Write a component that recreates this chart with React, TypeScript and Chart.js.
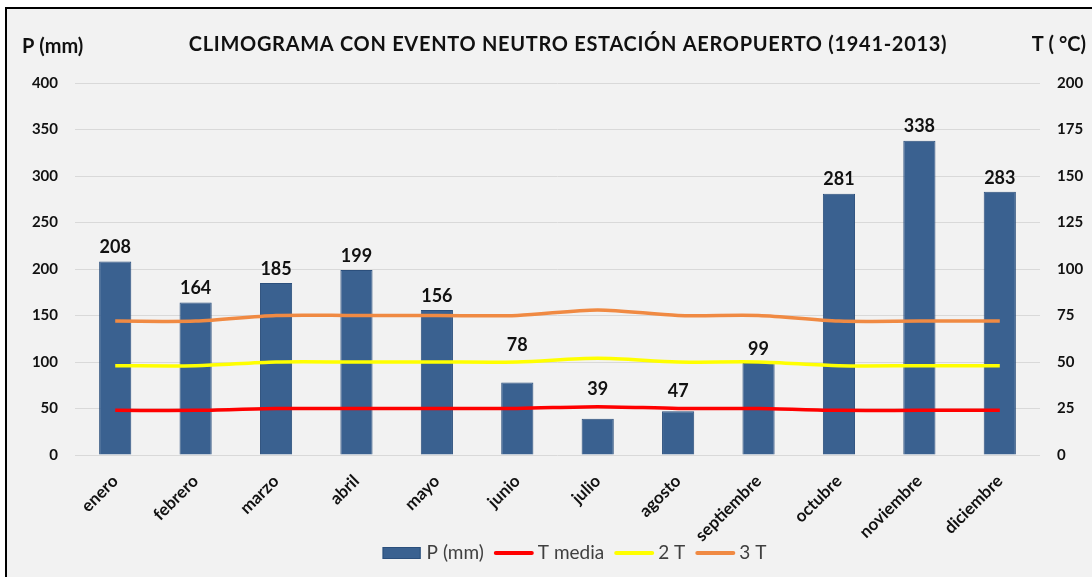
import React, { useEffect, useRef } from 'react';
import { Chart, registerables } from 'chart.js';
Chart.register(...registerables);

const months = ['enero', 'febrero', 'marzo', 'abril', 'mayo', 'junio', 'julio', 'agosto', 'septiembre', 'octubre', 'noviembre', 'diciembre'];
const precipitation = [208, 164, 185, 199, 156, 78, 39, 47, 99, 281, 338, 283];
const tMedia = [24, 24, 25, 25, 25, 25, 26, 25, 25, 24, 24, 24];
const t2 = [48, 48, 50, 50, 50, 50, 52, 50, 50, 48, 48, 48];
const t3 = [72, 72, 75, 75, 75, 75, 78, 75, 75, 72, 72, 72];

const titleText = 'CLIMOGRAMA CON EVENTO NEUTRO ESTACIÓN AEROPUERTO (1941-2013)';
const leftTitle = 'P (mm)';
const rightTitle = 'T ( °C)';

const BAR_COLOR = '#3A6190';
const BAR_BORDER = '#2B4F7C';
const RED = '#FF0000';
const YELLOW = '#FFFF00';
const ORANGE = '#F08A43';
const FONT = 'Lato';

export default function App() {
  const ref = useRef<HTMLCanvasElement>(null);
  useEffect(() => {
    const canvas = ref.current!;
    const overlay = {
      id: 'overlay',
      afterDraw(chart: any) {
        const ctx = chart.ctx;
        ctx.save();
        // title
        ctx.fillStyle = '#111';
        ctx.textBaseline = 'middle';
        ctx.textAlign = 'center';
        ctx.font = `bold 20px ${FONT}`;
        (ctx as any).letterSpacing = '0.7px';
        ctx.fillText(titleText, 568, 45);
        (ctx as any).letterSpacing = '0px';
        ctx.font = `bold 20px ${FONT}`;
        ctx.textAlign = 'left';
        ctx.fillText(leftTitle, 22, 47);
        ctx.textAlign = 'right';
        ctx.fillText(rightTitle, 1086, 45);
        // data labels: above bar, pushed above any temperature line they would hit
        const meta = chart.getDatasetMeta(0);
        const lineMetas = [1, 2, 3].map((i) => chart.getDatasetMeta(i));
        ctx.font = `bold 18px ${FONT}`;
        ctx.textAlign = 'center';
        ctx.textBaseline = 'bottom';
        ctx.fillStyle = '#111';
        const labelH = 17;
        meta.data.forEach((el: any, i: number) => {
          let bottom = el.y - 5;
          let moved = true;
          let guard = 0;
          while (moved && guard < 5) {
            moved = false;
            guard++;
            for (const lm of lineMetas) {
              const ly = lm.data[i].y;
              if (ly > bottom - labelH - 3 && ly < bottom + 3) {
                bottom = ly - 8;
                moved = true;
              }
            }
          }
          ctx.fillText(String(precipitation[i]), el.x, bottom);
        });
        // legend
        const items = [
          { type: 'rect', color: BAR_COLOR, label: 'P (mm)' },
          { type: 'line', color: RED, label: 'T media' },
          { type: 'line', color: YELLOW, label: '2 T' },
          { type: 'line', color: ORANGE, label: '3 T' },
        ];
        ctx.font = `19px ${FONT}`;
        const symW = 40, gapS = 4, gapI = 10;
        let total = 0;
        items.forEach((it, i) => {
          total += symW + gapS + ctx.measureText(it.label).width + (i < items.length - 1 ? gapI : 0);
        });
        let x = 574.5 - total / 2;
        const ly = 553;
        ctx.textAlign = 'left';
        ctx.textBaseline = 'middle';
        items.forEach((it) => {
          if (it.type === 'rect') {
            ctx.fillStyle = it.color;
            ctx.fillRect(x, ly - 6, 38, 12);
            ctx.strokeStyle = BAR_BORDER;
            ctx.lineWidth = 1;
            ctx.strokeRect(x + 0.5, ly - 5.5, 37, 11);
          } else {
            ctx.strokeStyle = it.color;
            ctx.lineWidth = 4;
            ctx.lineCap = 'round';
            ctx.beginPath();
            ctx.moveTo(x + 2, ly);
            ctx.lineTo(x + symW - 2, ly);
            ctx.stroke();
          }
          x += symW + gapS;
          ctx.fillStyle = '#404040';
          ctx.fillText(it.label, x, ly);
          x += ctx.measureText(it.label).width + gapI;
        });
        ctx.restore();
      },
    };
    const tickFont = { family: FONT, weight: 'bold' as const, size: 15 };
    const chart = new Chart(canvas, {
      type: 'bar',
      data: {
        labels: months,
        datasets: [
          {
            type: 'bar',
            label: 'P (mm)',
            data: precipitation,
            backgroundColor: BAR_COLOR,
            borderColor: BAR_BORDER,
            borderWidth: 1,
            barPercentage: 0.4,
            categoryPercentage: 1,
            yAxisID: 'y',
            order: 10,
          } as any,
          {
            type: 'line',
            label: 'T media',
            data: tMedia,
            borderColor: RED,
            backgroundColor: RED,
            borderWidth: 3.5,
            pointRadius: 0,
            tension: 0.3,
            yAxisID: 'y2',
            order: 1,
          },
          {
            type: 'line',
            label: '2 T',
            data: t2,
            borderColor: YELLOW,
            backgroundColor: YELLOW,
            borderWidth: 3.5,
            pointRadius: 0,
            tension: 0.3,
            yAxisID: 'y2',
            order: 2,
          },
          {
            type: 'line',
            label: '3 T',
            data: t3,
            borderColor: ORANGE,
            backgroundColor: ORANGE,
            borderWidth: 3.5,
            pointRadius: 0,
            tension: 0.3,
            yAxisID: 'y2',
            order: 3,
          },
        ],
      },
      options: {
        responsive: false,
        animation: false,
        devicePixelRatio: 1,
        layout: { padding: { top: 83, left: 0, right: 0, bottom: 0 } },
        plugins: {
          legend: { display: false },
          tooltip: { enabled: false },
          title: { display: false },
        },
        scales: {
          x: {
            grid: { display: false },
            border: { display: false },
            ticks: {
              maxRotation: 45,
              minRotation: 45,
              color: '#111',
              font: { family: FONT, weight: 'bold', size: 17 },
              padding: 8,
            },
            afterFit: (s: any) => { s.height = 122; },
          },
          y: {
            position: 'left',
            min: 0,
            max: 400,
            ticks: { stepSize: 50, color: '#111', font: tickFont, padding: 17 },
            grid: { color: '#D9D9D9', drawTicks: false, lineWidth: 1 },
            border: { display: false },
            afterFit: (s: any) => { s.width = 75; },
          },
          y2: {
            position: 'right',
            min: 0,
            max: 200,
            ticks: { stepSize: 25, color: '#111', font: tickFont, padding: 17 },
            grid: { drawOnChartArea: false, drawTicks: false },
            border: { display: false },
            afterFit: (s: any) => { s.width = 52; },
          },
        },
      } as any,
      plugins: [overlay],
    });
    return () => chart.destroy();
  }, []);
  return (
    <div style={{ position: 'fixed', left: 0, top: 0, width: 1092, height: 577, background: '#fff', overflow: 'hidden' }}>
      <div style={{ position: 'absolute', left: 5, top: 7, width: 1200, height: 700, borderTop: '2px solid #000', borderLeft: '2px solid #000', background: '#f2f2f2' }} />
      <canvas ref={ref} width={1092} height={577} style={{ position: 'absolute', left: 0, top: 0, width: 1092, height: 577 }} />
    </div>
  );
}
